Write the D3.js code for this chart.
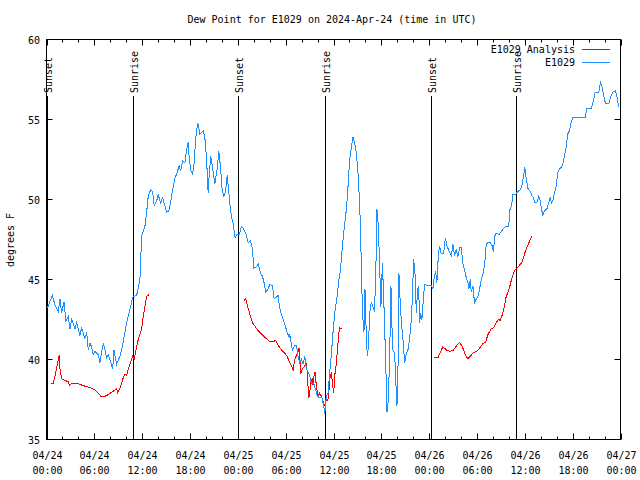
<!DOCTYPE html>
<html lang="en">
<head>
<meta charset="UTF-8">
<title>Dew Point for E1029</title>
<script src="https://d3js.org/d3.v7.min.js"></script>
<style>
    body { margin: 0; background: #fff; }
    text { font-family: "DejaVu Sans Mono", monospace; font-size: 10px; fill: #000; }
</style>
</head>
<body>
<svg width="640" height="480"></svg>
<script>
    // hours after 2024-04-24 00:00 UTC, dew point in degrees F
    const obsHours = [0.10, 0.73, 1.07, 1.48, 1.69, 1.90, 2.19, 2.44, 2.73, 2.94, 3.16, 3.57, 3.78, 4.20, 4.41, 4.82, 5.04, 5.24, 5.45, 5.66,
        5.86, 6.08, 6.49, 6.70, 6.92, 7.12, 7.33, 7.54, 7.74, 7.96, 8.30, 8.46, 8.80, 9.21, 9.55, 9.84, 10.13, 10.46, 10.80, 11.30,
        11.72, 11.93, 12.34, 12.56, 12.76, 13.06, 13.31, 13.51, 13.81, 14.01, 14.31, 14.56, 14.85, 15.06, 15.35, 15.56, 15.81, 16.10, 16.39, 16.64,
        16.82, 17.07, 17.36, 17.57, 17.77, 17.89, 18.11, 18.32, 18.52, 18.73, 18.98, 19.24, 19.45, 19.65, 19.86, 20.08, 20.28, 20.40, 20.61, 20.83,
        21.12, 21.40, 21.62, 21.83, 22.03, 22.24, 22.46, 22.66, 22.83, 23.00, 23.21, 23.41, 23.66, 23.87, 24.16, 24.46, 24.66, 25.00, 25.29, 25.59,
        25.84, 26.00, 26.34, 26.54, 26.84, 27.09, 27.29, 27.51, 27.79, 28.01, 28.35, 28.55, 28.85, 29.05, 29.26, 29.47, 29.67, 29.89, 30.18, 30.43,
        30.51, 30.73, 30.85, 31.14, 31.35, 31.55, 31.77, 31.98, 32.18, 32.39, 32.61, 32.81, 33.02, 33.23, 33.52, 33.77, 33.98, 34.27, 34.56, 34.77,
        34.90, 35.11, 35.31, 35.53, 35.74, 35.94, 36.15, 36.44, 36.69, 36.87, 37.12, 37.32, 37.62, 37.82, 38.03, 38.25, 38.45, 38.66, 38.87, 39.07,
        39.29, 39.41, 39.54, 39.70, 39.82, 39.95, 40.13, 40.25, 40.38, 40.54, 40.75, 40.95, 41.13, 41.29, 41.45, 41.63, 41.79, 41.95, 42.13, 42.29,
        42.54, 42.71, 42.88, 43.05, 43.21, 43.33, 43.46, 43.67, 43.88, 43.96, 44.09, 44.21, 44.39, 44.55, 44.71, 44.92, 45.14, 45.34, 45.55, 45.76,
        45.89, 46.05, 46.22, 46.39, 46.55, 46.68, 46.80, 46.93, 47.09, 47.27, 47.43, 47.84, 48.27, 48.47, 48.65, 48.81, 48.97, 49.15, 49.31, 49.52,
        49.81, 50.03, 50.23, 50.48, 50.78, 50.98, 51.19, 51.40, 51.60, 51.82, 52.03, 52.23, 52.44, 52.66, 52.86, 52.98, 53.16, 53.28, 53.48, 53.70,
        53.91, 54.11, 54.32, 54.54, 54.74, 54.95, 55.16, 55.36, 55.66, 55.91, 56.08, 56.20, 56.42, 56.74, 57.04, 57.33, 57.58, 57.99, 58.08, 58.33,
        58.50, 58.83, 59.12, 59.42, 59.62, 59.84, 60.00, 60.18, 60.38, 60.68, 60.93, 61.09, 61.25, 61.50, 61.75, 61.93, 62.09, 62.26, 62.47, 62.76,
        63.01, 63.18, 63.35, 63.51, 63.72, 63.93, 64.14, 64.35, 64.56, 64.76, 64.97, 65.19, 65.39, 65.60, 65.81, 66.02, 67.57, 67.77, 68.32, 68.52,
        68.82, 69.27, 69.49, 69.70, 69.90, 70.11, 70.53, 70.74, 71.03, 71.37, 71.53, 71.78];
    const obsDewpt = [43.2, 44.0, 43.4, 43.0, 43.8, 42.9, 43.6, 42.4, 42.7, 41.9, 42.5, 41.9, 42.3, 41.5, 42.0, 41.3, 41.7, 40.6, 41.0, 40.8,
        40.3, 40.5, 40.3, 39.8, 40.5, 41.0, 40.6, 40.1, 40.3, 40.0, 39.4, 40.6, 39.7, 40.2, 40.9, 41.7, 42.5, 43.1, 43.9, 44.0,
        45.0, 47.7, 48.3, 49.2, 50.2, 50.6, 50.5, 49.6, 49.9, 50.3, 49.8, 50.1, 49.6, 49.2, 49.3, 49.8, 50.6, 51.3, 51.7, 52.1,
        51.8, 52.4, 52.3, 53.1, 53.6, 52.7, 51.8, 51.6, 52.3, 53.9, 54.8, 54.1, 54.2, 54.3, 53.9, 52.5, 50.4, 51.5, 52.7, 52.0,
        51.0, 51.9, 53.0, 52.0, 50.6, 50.2, 50.5, 51.5, 50.7, 49.7, 48.9, 48.5, 47.6, 47.8, 47.8, 48.3, 48.2, 47.9, 47.3, 47.4,
        46.9, 45.7, 45.8, 46.0, 45.4, 45.2, 44.8, 44.2, 44.4, 44.7, 44.6, 43.8, 43.9, 44.0, 43.2, 42.8, 42.5, 42.2, 41.7, 41.4,
        41.6, 40.9, 40.6, 40.9, 40.9, 40.2, 39.8, 40.0, 39.7, 40.2, 39.4, 39.2, 39.0, 38.5, 38.5, 38.1, 37.7, 37.6, 37.6, 37.1,
        36.6, 37.7, 37.9, 39.2, 40.4, 41.7, 42.9, 43.9, 45.0, 45.6, 47.1, 48.1, 49.4, 50.8, 52.5, 53.3, 53.9, 53.5, 52.9, 51.7,
        49.6, 47.7, 44.6, 42.5, 41.7, 44.4, 41.3, 40.2, 40.8, 42.9, 43.6, 43.3, 43.0, 45.0, 49.4, 48.3, 45.8, 43.3, 46.0, 44.0,
        40.0, 36.7, 37.5, 40.4, 44.6, 42.1, 40.6, 40.4, 37.9, 37.1, 39.4, 45.4, 43.3, 42.1, 41.3, 39.8, 40.4, 40.6, 41.3, 42.5,
        43.8, 46.3, 45.4, 42.9, 44.4, 44.6, 42.3, 42.9, 42.5, 43.8, 44.7, 44.6, 44.6, 44.4, 45.2, 45.5, 44.8, 46.5, 47.1, 46.6,
        46.6, 47.6, 47.1, 46.8, 46.5, 47.2, 46.5, 46.9, 46.4, 47.0, 47.0, 46.0, 45.6, 45.1, 44.8, 44.4, 45.0, 44.2, 44.6, 43.5,
        43.8, 43.9, 44.4, 45.0, 45.3, 45.9, 47.2, 47.3, 47.3, 47.1, 46.7, 47.7, 47.9, 47.8, 48.0, 48.2, 48.3, 48.3, 49.3, 49.6,
        50.3, 50.3, 50.5, 50.6, 50.8, 51.5, 52.0, 51.3, 50.7, 50.5, 50.2, 50.1, 49.8, 49.8, 50.2, 49.9, 49.4, 49.0, 49.3, 49.4,
        49.8, 50.1, 49.8, 49.9, 50.4, 50.8, 51.7, 51.9, 52.0, 52.2, 52.7, 53.3, 54.1, 54.3, 54.8, 55.1, 55.1, 55.7, 55.7, 56.0,
        56.7, 56.7, 57.3, 57.0, 56.5, 56.0, 56.0, 56.4, 56.7, 56.8, 56.5, 55.8];

    // analysis runs, null marks a break between runs
    const anaHours = [0.56, 0.85, 1.07, 1.28, 1.48, 1.60, 1.69, 1.90, 2.32, 2.73, 2.86, 3.16, 3.98, 4.41, 5.04, 5.66, 6.08, 6.49, 6.83, 7.33,
        7.74, 8.17, 8.58, 8.80, 8.92, 9.21, 9.62, 9.84, 10.05, 10.25, 10.59, 10.80, 11.00, 11.22, 11.43, 11.72, 11.93, 12.13, 12.34, 12.56,
        12.76, 12.88, null,
        24.79, 25.00, 25.29, 25.59, 25.84, 26.13, 26.54, 26.97, 27.38, 27.79, 28.10, 28.42, 28.76, 29.05, 29.47, 29.89, 30.18, 30.51, 30.85, 30.93,
        31.14, 31.35, 31.55, 31.68, 31.77, 31.85, 32.11, 32.39, 32.61, 32.73, 32.89, 33.02, 33.15, 33.31, 33.43, 33.56, 33.68, 33.86, 34.06, 34.27,
        34.49, 34.69, 34.90, 35.03, 35.19, 35.36, 35.53, 35.74, 35.86, 36.03, 36.15, 36.28, 36.40, 36.53, 36.65, 36.78, 37.03, null,
        48.62, 49.10, 49.40, 49.72, 50.15, 50.65, 51.07, 51.48, 51.82, 52.07, 52.32, 52.57, 52.86, 53.16, 53.48, 53.91, 54.32, 54.74, 55.08, 55.41,
        55.74, 56.08, 56.42, 56.67, 56.92, 57.17, 57.42, 57.67, 57.87, 58.08, 58.33, 58.58, 58.80, 59.00, 59.34, 59.67, 59.96, 60.25, 60.59, 60.93];
    const anaDewpt = [38.5, 38.5, 39.0, 39.5, 40.0, 40.3, 39.4, 38.8, 38.7, 38.6, 38.4, 38.5, 38.5, 38.4, 38.3, 38.2, 38.1, 37.9, 37.7, 37.7,
        37.8, 37.95, 38.1, 38.2, 37.9, 38.2, 38.85, 39.1, 39.0, 39.4, 39.9, 40.2, 40.05, 40.6, 41.1, 41.6, 41.9, 42.7, 43.3, 43.95,
        44.05, 44.0, null,
        43.7, 43.8, 43.2, 42.7, 42.3, 42.1, 41.8, 41.6, 41.4, 41.2, 41.1, 41.1, 41.2, 40.9, 40.6, 40.4, 40.2, 39.8, 39.5, 39.3,
        40.0, 40.25, 40.5, 40.7, 40.4, 39.1, 39.4, 39.6, 39.75, 39.0, 37.6, 37.9, 38.6, 38.8, 38.4, 39.0, 39.2, 38.3, 37.7, 37.9,
        37.7, 37.4, 37.1, 37.5, 37.4, 37.6, 38.75, 39.2, 38.5, 37.9, 39.0, 39.4, 40.0, 40.8, 41.6, 41.98, 41.9, null,
        40.1, 40.1, 40.45, 40.8, 40.6, 40.5, 40.6, 40.9, 41.05, 40.9, 40.6, 40.25, 40.05, 40.2, 40.4, 40.5, 40.7, 41.0, 41.1, 41.6,
        41.9, 41.98, 42.3, 42.5, 42.45, 42.8, 43.3, 43.95, 44.2, 44.5, 45.0, 45.4, 45.6, 45.7, 45.9, 46.1, 46.6, 46.98, 47.4, 47.75];

    const sunHours = [0.08, 10.84, 24.0, 34.94, 48.2, 58.83];
    const sunLabels = ["Sunset", "Sunrise", "Sunset", "Sunrise", "Sunset", "Sunrise"];
    const yTicks = [35, 40, 45, 50, 55, 60];
    const seriesNames = ["E1029 Analysis", "E1029"];
    const seriesColors = ["#ff0000", "#1e90ff"];

    const svg = d3.select("svg");
    const t0 = Date.UTC(2024, 3, 24);
    const toDate = h => new Date(t0 + h * 3600e3);

    const x = d3.scaleUtc()
        .domain([toDate(0), toDate(72)])
        .range([46.5, 620.5]);
    const y = d3.scaleLinear()
        .domain([35, 60])
        .range([439.5, 39.5]);

    // title
    svg.append("text")
        .attr("x", 332).attr("y", 23)
        .attr("text-anchor", "middle")
        .text("Dew Point for E1029 on 2024-Apr-24 (time in UTC)");

    // y label
    svg.append("text")
        .attr("transform", "translate(14,240) rotate(-90)")
        .attr("text-anchor", "middle")
        .text("degrees F");

    // ticks, inward on all four sides
    const ticks = svg.append("g").attr("stroke", "#000").attr("stroke-width", 1);
    const xTicks = d3.utcHour.every(2).range(toDate(0), toDate(72.01));
    xTicks.forEach(d => {
        const major = d.getUTCHours() % 6 === 0;
        const len = major ? 6 : 3;
        const xp = Math.round(x(d)) + 0.5;
        ticks.append("line").attr("x1", xp).attr("x2", xp).attr("y1", 439.5).attr("y2", 439.5 - len);
        ticks.append("line").attr("x1", xp).attr("x2", xp).attr("y1", 39.5).attr("y2", 39.5 + len);
        if (major) {
            const lbl = svg.append("text").attr("text-anchor", "middle");
            lbl.append("tspan").attr("x", xp).attr("y", 459).text(d3.utcFormat("%m/%d")(d));
            lbl.append("tspan").attr("x", xp).attr("y", 474).text(d3.utcFormat("%H:%M")(d));
        }
    });
    yTicks.forEach(v => {
        const yp = y(v);
        ticks.append("line").attr("x1", 46.5).attr("x2", 52.5).attr("y1", yp).attr("y2", yp);
        ticks.append("line").attr("x1", 620.5).attr("x2", 614.5).attr("y1", yp).attr("y2", yp);
        svg.append("text")
            .attr("x", 40).attr("y", yp + 4)
            .attr("text-anchor", "end")
            .text(v);
    });

    // sunrise / sunset markers
    sunHours.forEach((h, i) => {
        const xp = Math.round(x(toDate(h))) + 0.5;
        svg.append("line")
            .attr("x1", xp).attr("x2", xp)
            .attr("y1", 96).attr("y2", 439.5)
            .attr("stroke", "#000");
        svg.append("text")
            .attr("transform", `translate(${xp + 4},93) rotate(-90)`)
            .attr("text-anchor", "start")
            .text(sunLabels[i]);
    });

    const line = d3.line()
        .defined(d => d[1] !== null)
        .x(d => x(toDate(d[0])))
        .y(d => y(d[1]));

    svg.append("path")
        .datum(anaHours.map((h, i) => [h, anaDewpt[i]]))
        .attr("fill", "none")
        .attr("stroke", seriesColors[0])
        .attr("stroke-width", 1)
        .attr("shape-rendering", "crispEdges")
        .attr("d", line);

    svg.append("path")
        .datum(obsHours.map((h, i) => [h, obsDewpt[i]]))
        .attr("fill", "none")
        .attr("stroke", seriesColors[1])
        .attr("stroke-width", 1)
        .attr("shape-rendering", "crispEdges")
        .attr("d", line);

    // frame
    svg.append("rect")
        .attr("x", 46.5).attr("y", 39.5)
        .attr("width", 574).attr("height", 400)
        .attr("fill", "none")
        .attr("stroke", "#000");

    // legend
    seriesNames.forEach((name, i) => {
        const ly = 49 + i * 13;
        svg.append("text")
            .attr("x", 575).attr("y", ly + 4)
            .attr("text-anchor", "end")
            .text(name);
        svg.append("line")
            .attr("x1", 582).attr("x2", 610)
            .attr("y1", ly + 0.5).attr("y2", ly + 0.5)
            .attr("stroke", seriesColors[i]);
    });
</script>
</body>
</html>
